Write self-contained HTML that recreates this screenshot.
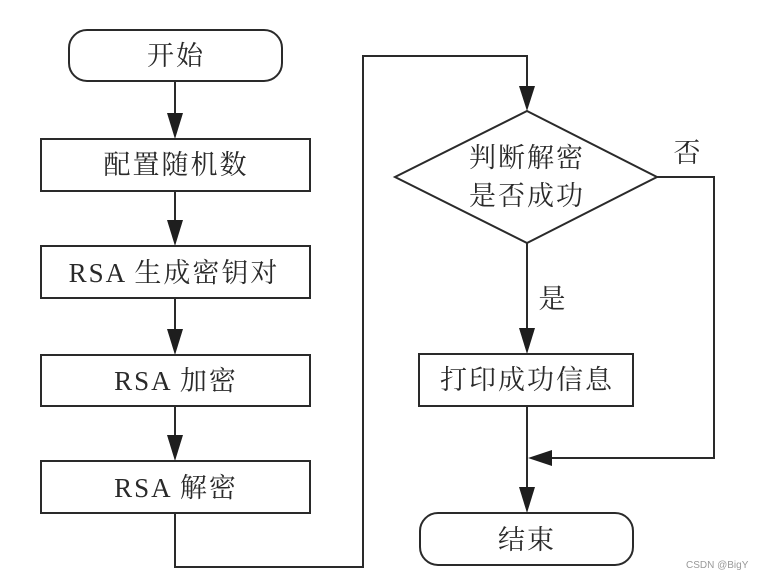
<!DOCTYPE html>
<html><head><meta charset="utf-8"><style>
html,body{margin:0;padding:0;background:#fff;}
svg text{font-family:"Liberation Serif","Noto Serif CJK SC",serif;fill:#2a2a2a;font-size:27px;letter-spacing:2px;}
</style></head><body>
<svg width="757" height="578" viewBox="0 0 757 578" xmlns="http://www.w3.org/2000/svg">
<g stroke="#2a2a2a" stroke-width="2" fill="none">
<rect x="69" y="30" width="213" height="51" rx="18"/>
<rect x="41" y="139" width="269" height="52"/>
<rect x="41" y="246" width="269" height="52"/>
<rect x="41" y="355" width="269" height="51"/>
<rect x="41" y="461" width="269" height="52"/>
<polygon points="527,111 657,177 527,243 395,177"/>
<rect x="419" y="354" width="214" height="52"/>
<rect x="420" y="513" width="213" height="52" rx="18"/>
<line x1="175" y1="81" x2="175" y2="115"/>
<line x1="175" y1="191" x2="175" y2="222"/>
<line x1="175" y1="298" x2="175" y2="331"/>
<line x1="175" y1="406" x2="175" y2="437"/>
<polyline points="175,513 175,567 363,567 363,56 527,56 527,88"/>
<line x1="527" y1="243" x2="527" y2="330"/>
<polyline points="657,177 714,177 714,458 550,458"/>
<line x1="527" y1="406" x2="527" y2="490"/>
</g>
<g fill="#1e1e1e">
<polygon points="167,113 183,113 175,139"/>
<polygon points="167,220 183,220 175,246"/>
<polygon points="167,329 183,329 175,355"/>
<polygon points="167,435 183,435 175,461"/>
<polygon points="519,86 535,86 527,111"/>
<polygon points="519,328 535,328 527,354"/>
<polygon points="519,487 535,487 527,513"/>
<polygon points="528,458 552,450 552,466"/>
</g>
<text x="176" y="65" text-anchor="middle">开始</text>
<text x="176" y="174" text-anchor="middle">配置随机数</text>
<text x="174" y="282" text-anchor="middle">RSA 生成密钥对</text>
<text x="176" y="390" text-anchor="middle">RSA 加密</text>
<text x="176" y="497" text-anchor="middle">RSA 解密</text>
<text x="527" y="167" text-anchor="middle">判断解密</text>
<text x="527" y="205" text-anchor="middle">是否成功</text>
<text x="688" y="162" text-anchor="middle">否</text>
<text x="553" y="308" text-anchor="middle">是</text>
<text x="527" y="389" text-anchor="middle">打印成功信息</text>
<text x="527" y="549" text-anchor="middle">结束</text>
<text x="686" y="568" style="font-family:'Liberation Sans',sans-serif;font-size:10px;fill:#999;letter-spacing:0">CSDN @BigY</text>
</svg>
</body></html>
